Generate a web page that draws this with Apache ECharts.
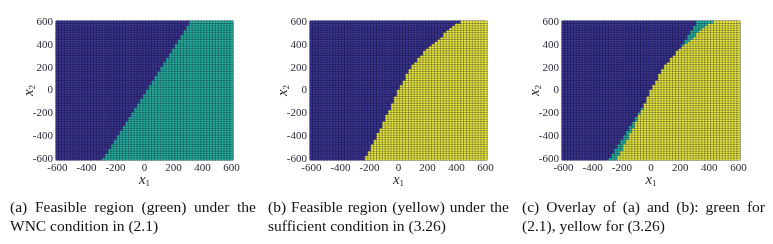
<!DOCTYPE html>
<html>
<head>
<meta charset="utf-8">
<script src="https://cdn.jsdelivr.net/npm/echarts@6/dist/echarts.min.js"></script>
<style>
html,body{margin:0;padding:0;background:#fff;}
#c{width:773px;height:244px;}
</style>
</head>
<body>
<div id="c"></div>
<script>
// ---- data ----
const X1_VALUES = [-600,-580,-560,-540,-520,-500,-480,-460,-440,-420,-400,-380,-360,-340,-320,-300,-280,-260,-240,-220,-200,-180,-160,-140,-120,-100,-80,-60,-40,-20,0,20,40,60,80,100,120,140,160,180,200,220,240,260,280,300,320,340,360,380,400,420,440,460,480,500,520,540,560,580,600];
const X2_VALUES = [-600,-580,-560,-540,-520,-500,-480,-460,-440,-420,-400,-380,-360,-340,-320,-300,-280,-260,-240,-220,-200,-180,-160,-140,-120,-100,-80,-60,-40,-20,0,20,40,60,80,100,120,140,160,180,200,220,240,260,280,300,320,340,360,380,400,420,440,460,480,500,520,540,560,580,600];
const TICK_LABELS = ['-600','-400','-200','0','200','400','600'];
// first feasible x1-column index for each x2-row (row 0 = x2 = -600)
const FEASIBLE_START_WNC = [16,17,17,18,18,19,19,20,20,21,21,22,22,23,23,24,24,25,25,26,26,27,27,28,28,29,29,30,30,31,31,32,32,33,33,34,34,35,35,36,36,37,37,38,38,39,39,40,40,41,41,42,42,43,43,44,44,45,45,46,46];
const FEASIBLE_START_SUFF = [19,19,20,20,21,21,21,22,22,23,23,23,24,24,25,25,25,26,26,26,27,27,28,28,28,29,29,29,30,30,30,31,31,32,32,33,33,33,34,34,35,35,36,37,37,38,39,39,40,41,42,43,44,45,46,46,47,48,49,50,52];
const CAPTIONS = [
  ['(a) Feasible region (green) under the', 'WNC condition in (2.1)'],
  ['(b) Feasible region (yellow) under the', 'sufficient condition in (3.26)'],
  ['(c) Overlay of (a) and (b):  green for', '(2.1), yellow for (3.26)']
];

// ---- build cells ----
function build(mode){
  const out = [];
  for (let r = 0; r < X2_VALUES.length; r++){
    for (let c = 0; c < X1_VALUES.length; c++){
      const a = c >= FEASIBLE_START_WNC[r];
      const b = c >= FEASIBLE_START_SUFF[r];
      let v = 0;
      if (mode === 'a') v = a ? 1 : 0;
      else if (mode === 'b') v = b ? 2 : 0;
      else v = b ? 2 : (a ? 1 : 0);
      out.push([c, r, v]);
    }
  }
  return out;
}

const FONT = "'Liberation Serif','DejaVu Serif',serif";
const lefts = [56, 310, 562];
const widths = [177, 177, 178];
const grids = [], xAxes = [], yAxes = [], series = [];
const modes = ['a','b','c'];
const titleRich = {i: {fontFamily: FONT, fontStyle: 'italic', fontSize: 15, color: '#2a2a3a'}, s: {fontFamily: FONT, fontSize: 9, color: '#2a2a3a', padding: [7,0,0,0]}};
for (let i = 0; i < 3; i++){
  grids.push({left: lefts[i], top: 21, width: widths[i], height: 139, show: true, borderColor: '#c4c4c4', borderWidth: 1, backgroundColor: 'transparent', containLabel: false});
  xAxes.push({
    type: 'category', gridIndex: i, data: X1_VALUES.map(String),
    axisLine: {show: false}, axisTick: {show: false}, splitLine: {show: false},
    axisLabel: {interval: (idx, val) => TICK_LABELS.includes(val), fontFamily: FONT, fontSize: 11, color: '#2a2a3a', margin: 3},
    name: '{i|x}{s|1}', nameLocation: 'middle', nameGap: 12, nameMoveOverlap: false,
    nameTextStyle: {rich: titleRich}
  });
  yAxes.push({
    type: 'category', gridIndex: i, data: X2_VALUES.map(String),
    axisLine: {show: false}, axisTick: {show: false}, splitLine: {show: false},
    axisLabel: {interval: (idx, val) => TICK_LABELS.includes(val), fontFamily: FONT, fontSize: 11, color: '#2a2a3a', margin: 3},
    name: '{i|x}{s|2}', nameLocation: 'middle', nameGap: 19, nameRotate: 90, nameMoveOverlap: false,
    nameTextStyle: {rich: titleRich}
  });
  series.push({
    type: 'heatmap', xAxisIndex: i, yAxisIndex: i, data: build(modes[i]),
    progressive: 0, animation: false,
    itemStyle: {borderColor: 'rgba(10,10,40,0.55)', borderWidth: 0.5},
    emphasis: {disabled: true}
  });
}

// justified captions
const ctx = document.createElement('canvas').getContext('2d');
const CAP_SIZE = 15.5;
const CAP_FONT = CAP_SIZE + "px 'Liberation Serif'";
ctx.font = CAP_FONT;
const capLeft = [10, 268, 522], capRight = [256, 509, 765];
const graphics = [];
for (let i = 0; i < 3; i++){
  const words = CAPTIONS[i][0].split(/\s+/);
  const wsum = words.reduce((s, w) => s + ctx.measureText(w).width, 0);
  const gap = (capRight[i] - capLeft[i] - wsum) / (words.length - 1);
  let x = capLeft[i];
  words.forEach(w => {
    graphics.push({type: 'text', x: x, y: 208, style: {text: w, font: CAP_FONT, fill: '#111', textVerticalAlign: 'middle', verticalAlign: 'middle'}});
    x += ctx.measureText(w).width + gap;
  });
  graphics.push({type: 'text', x: capLeft[i], y: 227, style: {text: CAPTIONS[i][1], font: CAP_FONT, fill: '#111', textVerticalAlign: 'middle', verticalAlign: 'middle'}});
}

const chart = echarts.init(document.getElementById('c'), null, {renderer: 'canvas'});
chart.setOption({
  animation: false,
  backgroundColor: '#fff',
  grid: grids, xAxis: xAxes, yAxis: yAxes, series: series,
  visualMap: {
    type: 'piecewise', show: false, dimension: 2, seriesIndex: [0,1,2],
    pieces: [{value: 0, color: '#3b3591'}, {value: 1, color: '#27b3a0'}, {value: 2, color: '#eeee3e'}]
  },
  graphic: graphics
});
</script>
</body>
</html>
